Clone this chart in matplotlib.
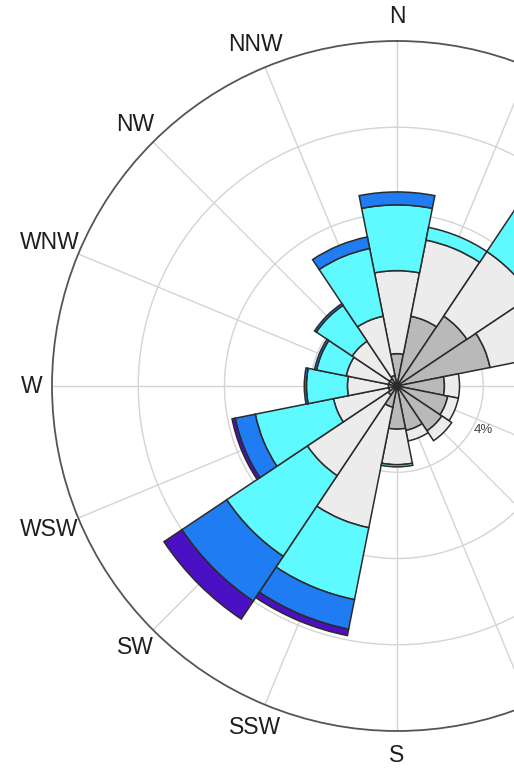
import numpy as np
import matplotlib.pyplot as plt

directions = ["N", "NNE", "NE", "ENE", "E", "ESE", "SE", "SSE",
              "S", "SSW", "SW", "WSW", "W", "WNW", "NW", "NNW"]

# frequency (%) of each speed band per direction
band1 = [1.5, 3.3, 3.9, 4.4, 2.2, 2.4, 2.5, 2.1, 2.0, 1.0, 0.5, 0.4, 0.4, 0.4, 0.4, 0.5]
band2 = [3.85, 3.6, 3.6, 3.4, 0.7, 0.5, 0.55, 0.5, 1.65, 5.7, 4.5, 2.6, 1.9, 2.0, 2.1, 2.8]
band3 = [3.05, 0.6, 3.1, 0.8, 0, 0, 0, 0, 0.1, 3.4, 4.5, 3.7, 1.9, 1.4, 2.0, 3.2]
band4 = [0.6, 0, 0.4, 0, 0, 0, 0, 0, 0, 1.4, 2.5, 0.95, 0.1, 0.1, 0.1, 0.55]
band5 = [0, 0, 0, 0, 0, 0, 0, 0, 0, 0.3, 1.0, 0.15, 0, 0, 0, 0]

band_colors = ["#b9b9b9", "#ececec", "#5ffaff", "#1f7cf2", "#4b10c4"]

r_ticks = [4, 8, 12]
r_tick_labels = ["4%", "8%", "12%"]

theta = np.deg2rad(np.arange(len(directions)) * 22.5)
width = 2 * np.pi / len(directions)

fig = plt.figure(figsize=(5.14, 7.73), dpi=100)
# polar axes centred at (397, 386) px with a radius of 345 px; right side runs off the figure
ax = fig.add_axes([52 / 514, 42 / 773, 690 / 514, 690 / 773], projection="polar")
ax.set_theta_zero_location("N")
ax.set_theta_direction(-1)
ax.set_axisbelow(True)

bottom = np.zeros(len(directions))
for band, color in zip([band1, band2, band3, band4, band5], band_colors):
    band = np.array(band)
    keep = band > 0
    ax.bar(theta[keep], band[keep], width=width, bottom=bottom[keep],
           color=color, edgecolor="#2b2b2b", linewidth=1.1, align="center")
    bottom += band

ax.set_ylim(0, 16)
ax.set_xticks(theta)
ax.set_xticklabels([])
ax.set_yticks(r_ticks)
ax.set_yticklabels([])
ax.grid(color="#d4d4d4", linewidth=1.0)
ax.spines["polar"].set_color("#555555")
ax.spines["polar"].set_linewidth(1.3)

# radial labels sit just outside their circle along the 117 degree bearing;
# only the first one lands inside the cropped figure
for r, lab in zip(r_ticks[:1], r_tick_labels[:1]):
    ax.text(np.deg2rad(117), r + 0.5, lab, ha="center", va="center",
            fontsize=9.5, color="#444444", family="Liberation Sans")

# compass labels; the eastern half falls outside the cropped figure
label_r = {"W": 16.95, "WNW": 17.45, "WSW": 17.45}
for t, name in zip(theta, directions):
    deg = np.rad2deg(t)
    if 0 < deg < 180:
        continue
    ax.text(t, label_r.get(name, 17.15), name, ha="center", va="center",
            fontsize=16.5, family="Liberation Sans", color="#1e1e1e",
            clip_on=False)

fig.savefig("out.png", dpi=100)
